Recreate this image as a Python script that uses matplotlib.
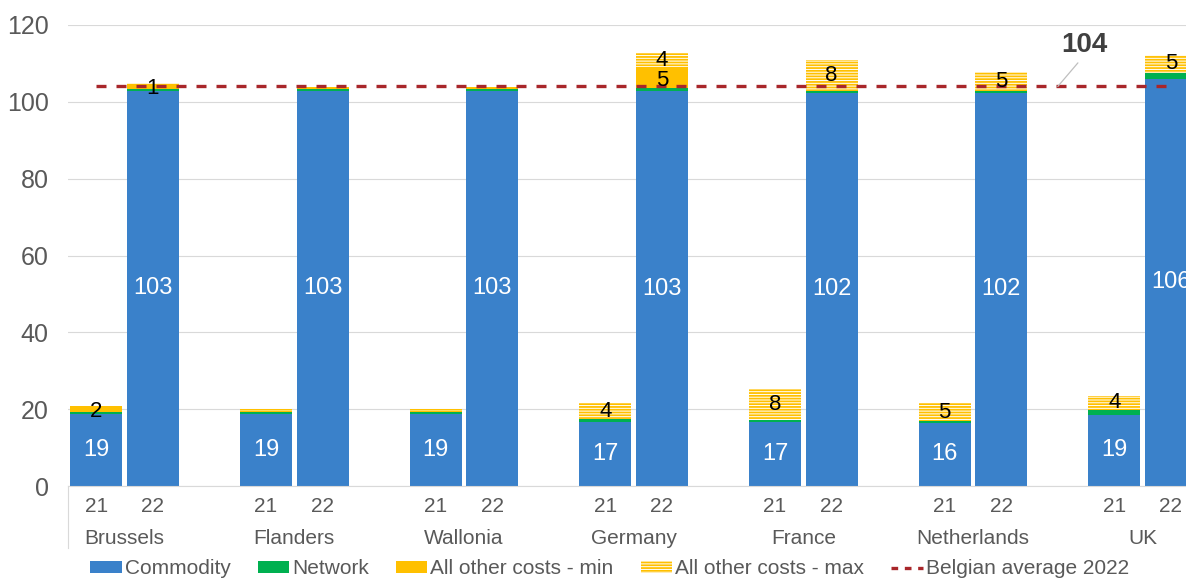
import numpy as np
import matplotlib
matplotlib.use('Agg')
import matplotlib.pyplot as plt
from matplotlib.patches import Patch
from matplotlib.lines import Line2D

regions = ['Brussels', 'Flanders', 'Wallonia', 'Germany', 'France', 'Netherlands', 'UK']
years = ['21', '22']

commodity21 = [18.8, 18.8, 18.8, 16.7, 16.6, 16.5, 18.6]
commodity22 = [102.9, 102.9, 102.9, 102.7, 102.4, 102.4, 106.0]
network21 = [0.4, 0.4, 0.4, 0.7, 0.5, 0.4, 1.2]
network22 = [0.5, 0.4, 0.4, 0.9, 0.5, 0.45, 1.6]
otherMin21 = [1.6, 0.3, 0.3, 0.0, 0.0, 0.0, 0.0]
otherMin22 = [1.2, 0.2, 0.2, 5.4, 0.0, 0.0, 0.0]
otherMax21 = [0.0, 0.5, 0.5, 4.2, 8.2, 4.6, 3.7]
otherMax22 = [0.4, 0.4, 0.4, 3.7, 8.0, 4.8, 4.6]

belgianAvg = 104

BLUE = '#3A81CA'
GREEN = '#00B050'
ORANGE = '#FFC000'
RED = '#A8262A'
GREY = '#595959'
FONT = 'Liberation Sans'


def main():
    plt.rcParams['font.family'] = [FONT, 'DejaVu Sans']
    plt.rcParams['hatch.linewidth'] = 1.3

    fig = plt.figure(figsize=(11.86, 5.81), dpi=100)
    ax = fig.add_axes([68 / 1186, 1 - 486 / 581, 1 - 68 / 1186, 461 / 581])

    # 3 slots per region: 21, 22, gap
    x21 = np.arange(len(regions)) * 3
    x22 = x21 + 1
    width = 0.92

    for x, com, net, omin, omax in [(x21, commodity21, network21, otherMin21, otherMax21),
                                    (x22, commodity22, network22, otherMin22, otherMax22)]:
        com = np.array(com)
        net = np.array(net)
        omin = np.array(omin)
        omax = np.array(omax)
        ax.bar(x, com, width, color=BLUE, linewidth=0, zorder=2)
        ax.bar(x, net, width, bottom=com, color=GREEN, linewidth=0, zorder=2)
        ax.bar(x, omin, width, bottom=com + net, color=ORANGE, linewidth=0, zorder=2)
        ax.bar(x, omax, width, bottom=com + net + omin, facecolor='white', edgecolor=ORANGE,
               hatch='------', linewidth=0, zorder=2)
        for a, c in zip(x, com):
            ax.text(a, c / 2, '%d' % round(c), ha='center', va='center', color='white', fontsize=17, zorder=4)
        for a, b, v in zip(x, com + net, omin):
            if v >= 1:
                ax.text(a, b + v / 2, '%d' % round(v), ha='center', va='center_baseline', color='black',
                        fontsize=16, zorder=4)
        for a, b, v in zip(x, com + net + omin, omax):
            if v >= 1:
                ax.text(a, b + v / 2, '%d' % round(v), ha='center', va='center', color='black',
                        fontsize=16, zorder=4)

    ax.plot([x21[0], x22[-1]], [belgianAvg, belgianAvg], color=RED, lw=2.4, dashes=(3, 3), zorder=3)
    ax.annotate(str(belgianAvg), xy=(17.0, belgianAvg), xytext=(17.47, 114.8), ha='center', va='center',
                fontsize=20, fontweight='bold', color='#404040',
                arrowprops=dict(arrowstyle='-', color='#BFBFBF', lw=0.9, shrinkA=2, shrinkB=0, relpos=(0.45, 0)))

    ax.set_xlim(-0.5, -0.5 + 1118 / 56.56)
    ax.set_ylim(0, 120)
    ax.set_yticks(np.arange(0, 121, 20))
    ax.yaxis.grid(True, color='#D9D9D9', lw=0.8, zorder=0)
    ax.set_axisbelow(True)
    for s in ['top', 'right', 'left']:
        ax.spines[s].set_visible(False)
    ax.spines['bottom'].set_color('#D9D9D9')
    ax.spines['bottom'].set_linewidth(0.8)

    ticks = np.concatenate([x21, x22])
    ax.set_xticks(ticks)
    ax.set_xticklabels([years[0]] * len(x21) + [years[1]] * len(x22))
    ax.tick_params(axis='x', length=0, pad=8, labelsize=15, labelcolor=GREY)
    ax.tick_params(axis='y', length=0, pad=14, labelsize=18, labelcolor=GREY)

    for a, name in zip(x21 + 0.5, regions):
        ax.text(a, -52 / 461 * 120, name, ha='center', va='center', fontsize=15, color=GREY, clip_on=False)
    ax.add_line(Line2D([0, 0], [0, -62 / 461], transform=ax.transAxes, color='#D9D9D9', lw=0.8, clip_on=False))

    handles = [Patch(facecolor=BLUE, linewidth=0),
               Patch(facecolor=GREEN, linewidth=0),
               Patch(facecolor=ORANGE, linewidth=0),
               Patch(facecolor='white', edgecolor=ORANGE, hatch='------', linewidth=0),
               Line2D([0], [0], color=RED, lw=2.4, dashes=(2, 2))]
    labels = ['Commodity', 'Network', 'All other costs - min', 'All other costs - max', 'Belgian average 2022']
    fig.legend(handles, labels, loc='center', bbox_to_anchor=(0.514, 12 / 581), ncol=5, frameon=False,
               fontsize=15, labelcolor=GREY, handlelength=1.5, handleheight=0.5, handletextpad=0.15,
               columnspacing=1.3, borderaxespad=0, borderpad=0)

    fig.savefig('out.png', dpi=100)


if __name__ == "__main__":
    main()
